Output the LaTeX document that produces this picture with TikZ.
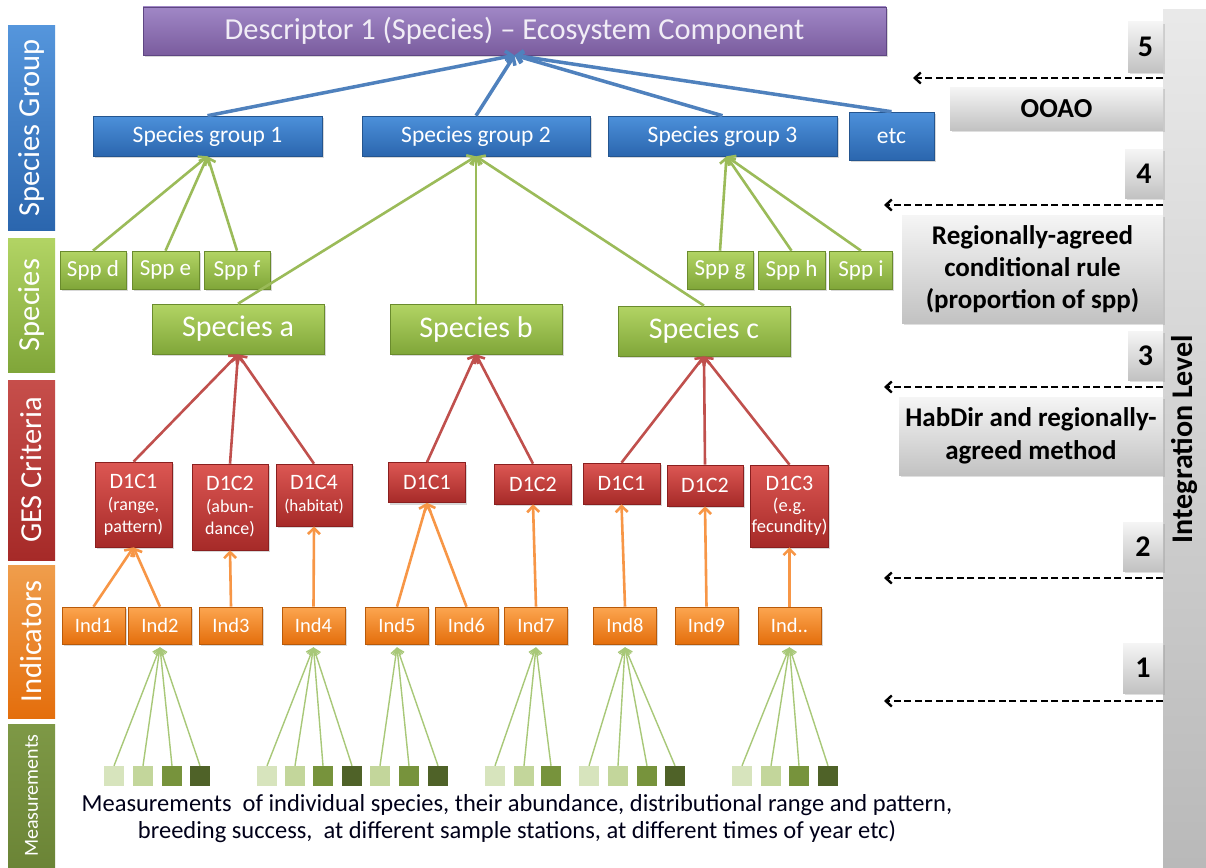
\documentclass[tikz,border=0pt]{standalone}
\usepackage{fontspec}
\setmainfont{Carlito}
\usetikzlibrary{arrows.meta,shadows}

% palette
\definecolor{purpT}{HTML}{A087C6}
\definecolor{purpB}{HTML}{7A5C9E}
\definecolor{purpD}{HTML}{5E4682}
\definecolor{blueT}{HTML}{4C90DA}
\definecolor{blueB}{HTML}{2B66AE}
\definecolor{blueD}{HTML}{24558F}
\definecolor{greenT}{HTML}{B2D464}
\definecolor{greenB}{HTML}{80A639}
\definecolor{greenD}{HTML}{6A8B2D}
\definecolor{redT}{HTML}{DC5753}
\definecolor{redB}{HTML}{A62A28}
\definecolor{redD}{HTML}{8A1F1F}
\definecolor{orT}{HTML}{FCA650}
\definecolor{orB}{HTML}{E46E0C}
\definecolor{orD}{HTML}{B85A0A}
\definecolor{grayT}{HTML}{F5F5F5}
\definecolor{grayB}{HTML}{C2C2C2}
\definecolor{arBlue}{HTML}{4F81BD}
\definecolor{arGreen}{HTML}{9BBB59}
\definecolor{arRed}{HTML}{C0504D}
\definecolor{arOrange}{HTML}{F79646}
\definecolor{arMeas}{HTML}{A8C878}
\definecolor{sqA}{HTML}{D7E4BD}
\definecolor{sqB}{HTML}{C3D69B}
\definecolor{sqC}{HTML}{77933C}
\definecolor{sqD}{HTML}{4F6228}

\newcommand\fsz[2]{\fontsize{#1}{#2}\selectfont}

\tikzset{
  sz/.style 2 args={minimum width=#1pt, minimum height=#2pt},
  bx/.style={rectangle, inner sep=1pt, align=center, text=white, line width=0.6pt,
    drop shadow={shadow xshift=1.5pt, shadow yshift=-2pt, opacity=0.3}},
  purplebox/.style={bx, top color=purpT, bottom color=purpB, draw=purpD, text=purpT!15!white},
  bluebox/.style={bx, top color=blueT, bottom color=blueB, draw=blueD},
  greenbox/.style={bx, top color=greenT, bottom color=greenB, draw=greenD},
  redbox/.style={bx, top color=redT, bottom color=redB, draw=redD},
  orangebox/.style={bx, top color=orT, bottom color=orB, draw=orD},
  graybox/.style={rectangle, inner sep=1pt, align=center, text=black, top color=grayT, bottom color=grayB,
    drop shadow={shadow xshift=1.5pt, shadow yshift=-2pt, opacity=0.25}, font=\bfseries},
  sidebar/.style 2 args={rectangle, rotate=90, inner sep=0pt, text=white, top color=#1, bottom color=#2},
  sq/.style={rectangle, inner sep=0pt, minimum size=20pt, fill=#1},
  tip/.style={-{Straight Barb[length=6pt,width=12pt]}},
  bluearrow/.style={tip, draw=arBlue, line width=3.5pt},
  greenarrow/.style={tip, draw=arGreen, line width=2.6pt},
  redarrow/.style={tip, draw=arRed, line width=2.6pt},
  orangearrow/.style={tip, draw=arOrange, line width=2.6pt},
  measarrow/.style={-{Straight Barb[length=6pt,width=10pt]}, draw=arMeas, line width=1.4pt},
  levelarrow/.style={-{Straight Barb[length=6pt,width=11pt]}, draw=black, line width=2.4pt,
    dash pattern=on 7pt off 3.5pt},
}

\begin{document}
\begin{tikzpicture}[x=1pt, y=-1pt]
\useasboundingbox[fill=white] (0,0) rectangle (1206,867);

% ---- level bars on the left
\node[sidebar={blueT!95!white}{blueB}, sz={204}{47}, font=\fsz{30.5}{33}] (sgbar) at (31.5,128) {Species Group};
\node[sidebar={greenT}{greenB}, sz={134}{47}, font=\fsz{30.5}{33}] (spbar) at (31.5,305) {Species};
\node[sidebar={redT!90!black}{redB}, sz={180}{47}, font=\fsz{30.5}{33}] (gesbar) at (31.5,470) {GES Criteria};
\node[sidebar={orT!95!black}{orB}, sz={153}{47}, font=\fsz{30.5}{33}] (indbar) at (31.5,641.5) {Indicators};
\node[sidebar={sqC!95!white}{sqC!90!black}, sz={143}{47}, font=\fsz{20}{22}] (measbar) at (31.5,795.5) {Measurements};

% ---- integration level bar on the right
\node[sidebar={grayT!90!gray}{gray!55!white}, sz={859}{43}, text=black, font=\bfseries\fsz{30}{32}] (intbar) at (1184.5,439) {Integration Level};

% ---- descriptor
\node[purplebox, sz={743}{48}, font=\fsz{30.5}{33}] (desc) at (514.5,31) {Descriptor 1 (Species) – Ecosystem Component};

% ---- species groups
\begin{scope}[font=\fsz{23.5}{26}]
\node[bluebox, sz={229}{40}] (sg1) at (207.5,136) {Species group 1};
\node[bluebox, sz={228}{40}] (sg2) at (476,136) {Species group 2};
\node[bluebox, sz={229}{40}] (sg3) at (722.5,136) {Species group 3};
\node[bluebox, sz={85}{48}] (etc) at (891.5,136) {etc};
\end{scope}

% ---- single species
\begin{scope}[font=\fsz{23}{25}]
\node[greenbox, sz={66}{38}] (sppd) at (93,270) {Spp d};
\node[greenbox, sz={67}{38}] (sppe) at (165.5,270) {Spp e};
\node[greenbox, sz={66}{38}] (sppf) at (237,270) {Spp f};
\node[greenbox, sz={66}{38}] (sppg) at (720,270) {Spp g};
\node[greenbox, sz={67}{38}] (spph) at (791.5,270) {Spp h};
\node[greenbox, sz={63}{38}] (sppi) at (861,270) {Spp i};
\end{scope}
\begin{scope}[font=\fsz{30}{32}]
\node[greenbox, sz={172}{50}] (spa) at (238,329) {Species a};
\node[greenbox, sz={172}{50}] (spb) at (476,329) {Species b};
\node[greenbox, sz={172}{50}] (spc) at (704,331) {Species c};
\end{scope}

% ---- GES criteria
\begin{scope}[font=\fsz{18}{22}]
\node[redbox, sz={77}{85}] (ca1) at (133.5,504.5) {{\fsz{22}{26}D1C1}\\(range,\\pattern)};
\node[redbox, sz={76}{86}] (ca2) at (230,507) {{\fsz{22}{26}D1C2}\\(abun-\\dance)};
\node[redbox, sz={76}{62}] (ca4) at (314,495) {{\fsz{22}{26}D1C4}\\{\fsz{17}{20}(habitat)}};
\node[redbox, sz={77}{40}, font=\fsz{22}{26}] (cb1) at (427,482.5) {D1C1};
\node[redbox, sz={77}{40}, font=\fsz{22}{26}] (cb2) at (533,484) {D1C2};
\node[redbox, sz={77}{41}, font=\fsz{22}{26}] (cc1) at (621.5,483.5) {D1C1};
\node[redbox, sz={76}{41}, font=\fsz{22}{26}] (cc2) at (705,485.5) {D1C2};
\node[redbox, sz={77}{82}, font=\fsz{18.5}{21}] (cc3) at (789.5,506) {{\fsz{22}{26}D1C3}\\(e.g.\\fecundity)};
\end{scope}

% ---- indicators
\begin{scope}[font=\fsz{20.5}{23}]
\foreach \n/\x/\t in {ind1/93.5/Ind1, ind2/160/Ind2, ind3/231/Ind3, ind4/313.5/Ind4, ind5/397/Ind5,
                      ind6/466.5/Ind6, ind7/536/Ind7, ind8/625/Ind8, ind9/706.5/Ind9, indx/789.5/Ind..}
  \node[orangebox, sz={63}{37}] (\n) at (\x,625.5) {\t};
\end{scope}

% ---- measurement squares (name/centre x/colour)
\foreach \n/\x/\c in {m1a/114/sqA, m1b/143/sqB, m1c/172/sqC, m1d/200/sqD,
                      m2a/267/sqA, m2b/295/sqB, m2c/323/sqC, m2d/352/sqD,
                      m3b/380/sqB, m3c/409/sqC, m3d/438/sqD,
                      m4a/495/sqA, m4b/524/sqB, m4c/551/sqC,
                      m5a/589/sqA, m5b/618/sqB, m5c/647/sqC, m5d/675/sqD,
                      m6a/742/sqA, m6b/771/sqB, m6c/799/sqC, m6d/828/sqD}
  \node[sq=\c] (\n) at (\x,776) {};

\node[align=center, font=\fsz{24.5}{27}, text=black!90!blue] (caption) at (517,819)
  {Measurements\ \ of individual species, their abundance, distributional range and pattern,\\
   breeding success,\ \ at different sample stations, at different times of year etc)};

% ---- connectors: groups to descriptor
\foreach \s in {sg1,sg2,sg3,etc}
  \draw[bluearrow] (\s.north) -- (desc.south);

% species to groups
\foreach \s in {sppd,sppe,sppf} \draw[greenarrow] (\s.north) -- (sg1.south);
\foreach \s in {spa,spb,spc} \draw[greenarrow] (\s.north) -- (sg2.south);
\foreach \s in {sppg,spph,sppi} \draw[greenarrow] (\s.north) -- ([xshift=4pt]sg3.south);

% criteria to species
\foreach \s in {ca1,ca2,ca4} \draw[redarrow] (\s.north) -- (spa.south);
\foreach \s in {cb1,cb2} \draw[redarrow] (\s.north) -- (spb.south);
\foreach \s in {cc1,cc2,cc3} \draw[redarrow] (\s.north) -- (spc.south);

% indicators to criteria
\foreach \s/\t in {ind1/ca1, ind2/ca1, ind3/ca2, ind4/ca4, ind5/cb1, ind6/cb1,
                   ind7/cb2, ind8/cc1, ind9/cc2, indx/cc3}
  \draw[orangearrow] (\s.north) -- (\t.south);

% measurements to indicators
\foreach \s/\t in {m1a/ind2, m1b/ind2, m1c/ind2, m1d/ind2,
                   m2a/ind4, m2b/ind4, m2c/ind4, m2d/ind4,
                   m3b/ind5, m3c/ind5, m3d/ind5,
                   m4a/ind7, m4b/ind7, m4c/ind7,
                   m5a/ind8, m5b/ind8, m5c/ind8, m5d/ind8,
                   m6a/indx, m6b/indx, m6c/indx, m6d/indx}
  \draw[measarrow] (\s.north) -- ([yshift=-3pt]\t.south);

% ---- integration levels and rules
\node[graybox, sz={35}{50}, font=\bfseries\fsz{30}{32}] (n5) at (1145.5,47) {5};
\node[graybox, sz={213}{43}, font=\bfseries\fsz{27.5}{30}] (ooao) at (1056.5,108.5) {OOAO};
\node[graybox, sz={38}{49}, font=\bfseries\fsz{30}{32}] (n4) at (1144,173.5) {4};
\node[graybox, sz={261}{108}, font=\bfseries\fsz{27}{32}] (rule) at (1032.5,269)
  {Regionally-agreed\\conditional rule\\(proportion of spp)};
\node[graybox, sz={35}{49}, font=\bfseries\fsz{30}{32}] (n3) at (1145.5,355.5) {3};
\node[graybox, sz={264}{78}, font=\bfseries\fsz{27}{33}] (habdir) at (1031,436)
  {HabDir and regionally-\\agreed method};
\node[graybox, sz={40}{49}, font=\bfseries\fsz{30}{32}] (n2) at (1143,546.5) {2};
\node[graybox, sz={40}{50}, font=\bfseries\fsz{30}{32}] (n1) at (1143,668) {1};

\foreach \k/\y/\e in {5/78/913, 4/205/884, 3/387/884, 2/578/884, 1/701/884} {
  \coordinate (ls\k) at (1163,\y);
  \coordinate (le\k) at (\e,\y);
  \draw[levelarrow] (ls\k) -- (le\k);
}
\end{tikzpicture}
\end{document}
